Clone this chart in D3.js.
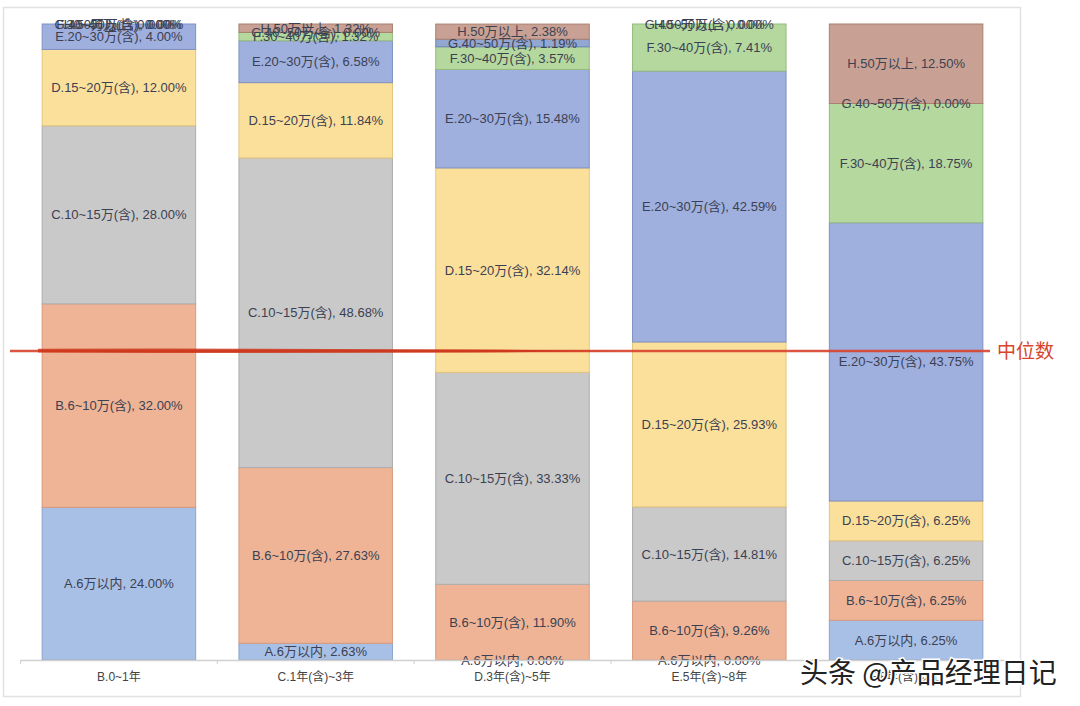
<!DOCTYPE html>
<html><head><meta charset="utf-8">
<script src="https://cdn.jsdelivr.net/npm/d3@7/dist/d3.min.js"></script>
<style>
body{margin:0;background:#fff;}
svg{display:block;font-family:"Liberation Sans","Noto Sans CJK SC",sans-serif;}
</style></head>
<body><svg id="c" width="1080" height="706"></svg>
<script>
const categories = ["B.0~1年","C.1年(含)~3年","D.3年(含)~5年","E.5年(含)~8年","F.8年(含)以上"];
const seriesNames = ["A.6万以内","B.6~10万(含)","C.10~15万(含)","D.15~20万(含)","E.20~30万(含)","F.30~40万(含)","G.40~50万(含)","H.50万以上"];
const A = [24.00, 2.63, 0.00, 0.00, 6.25];
const B = [32.00, 27.63, 11.90, 9.26, 6.25];
const C = [28.00, 48.68, 33.33, 14.81, 6.25];
const D = [12.00, 11.84, 32.14, 25.93, 6.25];
const E = [4.00, 6.58, 15.48, 42.59, 43.75];
const F = [0.00, 1.32, 3.57, 7.41, 18.75];
const G = [0.00, 0.00, 1.19, 0.00, 0.00];
const H = [0.00, 1.32, 2.38, 0.00, 12.50];
const medianValue = 48.6;
const fills = ["#a9c0e6","#eeb495","#c9c9c9","#fbe09c","#9fafde","#b5d89f","#93a7d3","#c9a194"];
const strokes = ["#8aa3cc","#d99a7c","#adadad","#e5c57c","#7f91c4","#94bb7e","#6f86b8","#a8806f"];

const seriesData = [A,B,C,D,E,F,G,H];
const rows = categories.map((c,i)=>{const r={cat:c}; seriesNames.forEach((s,j)=>r[s]=seriesData[j][i]); return r;});
const stack = d3.stack().keys(seriesNames)(rows);

const svg = d3.select("#c");
svg.append("rect").attr("x",3.5).attr("y",7.5).attr("width",1017).attr("height",689)
  .attr("fill","#fff").attr("stroke","#e2e2e2").attr("stroke-width",1.5);

const x = d3.scaleBand().domain(categories).range([20.5,1004.5]).paddingInner(0.22).paddingOuter(0.11);
const y = d3.scaleLinear().domain([0,100]).range([660,24]);

const g = svg.append("g");
stack.forEach((layer,j)=>{
  g.append("g").selectAll("rect").data(layer).join("rect")
    .attr("x",d=>x(d.data.cat))
    .attr("width",x.bandwidth())
    .attr("y",d=>y(d[1]))
    .attr("height",d=>Math.max(0,y(d[0])-y(d[1])))
    .attr("fill",fills[j])
    .attr("stroke",strokes[j]).attr("stroke-width",1);
});
stack.forEach((layer,j)=>{
  g.append("g").selectAll("text").data(layer).join("text")
    .attr("x",d=>x(d.data.cat)+x.bandwidth()/2)
    .attr("y",d=>(y(d[0])+y(d[1]))/2)
    .attr("dy","0.35em")
    .attr("text-anchor","middle")
    .attr("font-size",13)
    .attr("fill","#3b4152")
    .text(d=>`${seriesNames[j]}, ${(d[1]-d[0]).toFixed(2)}%`);
});

const ax = svg.append("g").attr("transform","translate(0,660)")
  .call(d3.axisBottom(x).tickSize(0).tickPadding(12));
ax.select(".domain").attr("stroke","#d0d0d0").attr("stroke-width",1.5);
ax.selectAll("text").attr("font-size",12).attr("fill","#444")
  .attr("font-family","\"Liberation Sans\",\"Noto Sans CJK SC\",sans-serif");
const bounds = [x.range()[0]].concat(categories.map(c=>x(c)+x.bandwidth()+x.step()*x.paddingInner()/2));
svg.append("g").selectAll("line").data(bounds.slice(0,5)).join("line")
  .attr("x1",d=>d).attr("x2",d=>d).attr("y1",660).attr("y2",664)
  .attr("stroke","#d0d0d0");

const my = y(medianValue);
svg.append("line").attr("x1",10).attr("x2",990).attr("y1",my).attr("y2",my)
  .attr("stroke","#d9432c").attr("stroke-width",2.5).attr("opacity",0.9);
// tapered brush stroke
svg.append("path")
  .attr("d",`M38,${my-2.2} L160,${my-2.4} L480,${my-1.4} L620,${my} L480,${my+1.6} L160,${my+2.2} L38,${my+1.6} Z`)
  .attr("fill","#cc3419").attr("opacity",0.8);
svg.append("text").attr("x",997).attr("y",my).attr("dy","0.35em")
  .attr("font-size",19).attr("fill","#d9432c")
  .attr("font-family","\"Noto Sans CJK SC\",sans-serif").text("中位数");

svg.append("text").attr("x",800).attr("y",683)
  .attr("font-size",28).attr("fill","#222").attr("stroke","#fff").attr("stroke-width",3)
  .attr("paint-order","stroke")
  .attr("font-family","\"Noto Sans CJK SC\",sans-serif").text("头条 @产品经理日记");
</script></body></html>
